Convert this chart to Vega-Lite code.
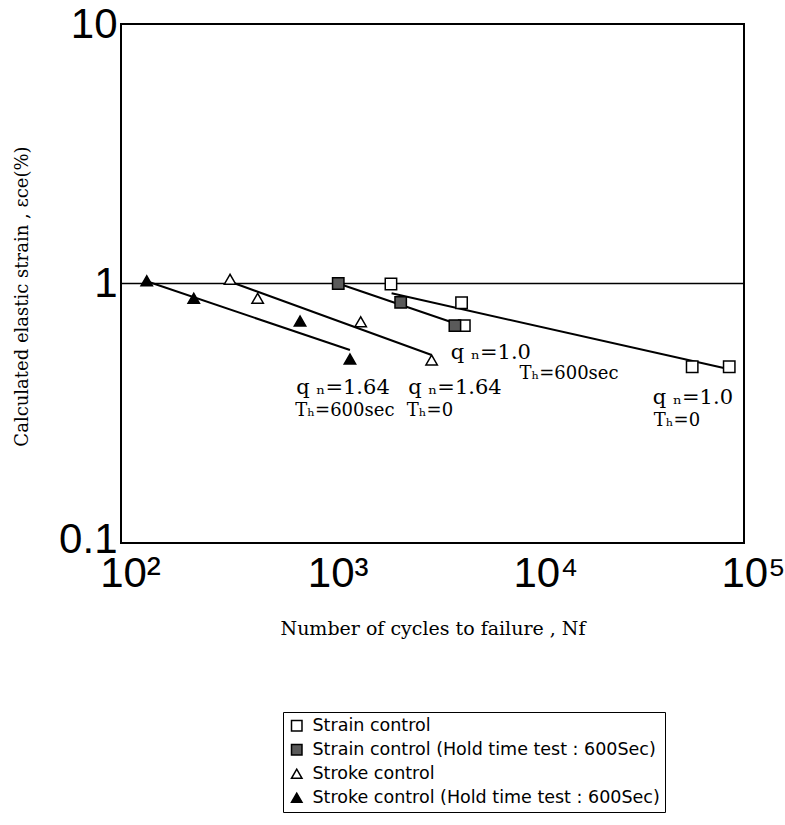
{
  "$schema": "https://vega.github.io/schema/vega-lite/v6.json",
  "width": 623,
  "height": 519,
  "autosize": {"type": "none"},
  "padding": {"left": 121, "top": 24, "right": 41, "bottom": 282},
  "background": "white",
  "config": {
    "view": {"stroke": "black", "strokeWidth": 2},
    "axis": {"domain": false, "ticks": false, "grid": false, "labelColor": "black", "titleColor": "black"}
  },
  "datasets": {
    "pts": [
      {"series": "Strain control", "N": 1995, "e": 0.995},
      {"series": "Strain control", "N": 4365, "e": 0.843},
      {"series": "Strain control", "N": 4500, "e": 0.688},
      {"series": "Strain control", "N": 56300, "e": 0.478},
      {"series": "Strain control", "N": 84900, "e": 0.478},
      {"series": "Strain control (Hold time test : 600Sec)", "N": 1112, "e": 1.0},
      {"series": "Strain control (Hold time test : 600Sec)", "N": 2222, "e": 0.846},
      {"series": "Strain control (Hold time test : 600Sec)", "N": 4055, "e": 0.688},
      {"series": "Stroke control", "N": 335, "e": 1.038},
      {"series": "Stroke control", "N": 455, "e": 0.877},
      {"series": "Stroke control", "N": 1426, "e": 0.712},
      {"series": "Stroke control", "N": 3132, "e": 0.507},
      {"series": "Stroke control (Hold time test : 600Sec)", "N": 133, "e": 1.025},
      {"series": "Stroke control (Hold time test : 600Sec)", "N": 224, "e": 0.877},
      {"series": "Stroke control (Hold time test : 600Sec)", "N": 728, "e": 0.717},
      {"series": "Stroke control (Hold time test : 600Sec)", "N": 1266, "e": 0.512}
    ],
    "lines": [
      {"line": "A", "N": 133, "e": 1.02},
      {"line": "A", "N": 1266, "e": 0.554},
      {"line": "B", "N": 346, "e": 1.007},
      {"line": "B", "N": 3132, "e": 0.53},
      {"line": "C", "N": 1112, "e": 1.0},
      {"line": "C", "N": 4285, "e": 0.692},
      {"line": "D", "N": 2009, "e": 0.917},
      {"line": "D", "N": 88300, "e": 0.464}
    ],
    "ref": [{"e": 1}],
    "notes": [
      {"kind": "q", "label": "q ₙ=1.0", "N": 6040, "e": 0.54},
      {"kind": "t", "label": "Tₕ=600sec", "N": 14360, "e": 0.448},
      {"kind": "q", "label": "q ₙ=1.64", "N": 1172, "e": 0.396},
      {"kind": "q", "label": "q ₙ=1.64", "N": 4055, "e": 0.396},
      {"kind": "t", "label": "Tₕ=600sec", "N": 1197, "e": 0.3226},
      {"kind": "t", "label": "Tₕ=0", "N": 3074, "e": 0.3226},
      {"kind": "q", "label": "q ₙ=1.0", "N": 56750, "e": 0.362},
      {"kind": "t", "label": "Tₕ=0", "N": 47530, "e": 0.295}
    ]
  },
  "encoding": {
    "x": {
      "field": "N", "type": "quantitative",
      "scale": {"type": "log", "domain": [100, 100000], "nice": false},
      "axis": {
        "values": [100, 1000, 10000, 100000],
        "labelExpr": "datum.value == 100 ? '10²' : datum.value == 1000 ? '10³' : datum.value == 10000 ? '10⁴' : '10⁵'",
        "labelFont": "Liberation Sans", "labelFontSize": 42, "labelPadding": 10, "labelOffset": 9,
        "labelFlush": false,
        "title": "Number of cycles to failure , Nf",
        "titleFont": "DejaVu Serif", "titleFontSize": 19, "titleFontWeight": "normal",
        "titleY": 76
      }
    },
    "y": {
      "field": "e", "type": "quantitative",
      "scale": {"type": "log", "domain": [0.1, 10], "nice": false},
      "axis": {
        "values": [0.1, 1, 10],
        "format": "~g",
        "labelFont": "Liberation Sans", "labelFontSize": 42, "labelPadding": 4,
        "labelOffset": {"condition": {"test": "datum.value < 0.5", "value": -4}, "value": 0},
        "labelFlush": false,
        "title": "Calculated elastic strain , εce(%)",
        "titleFont": "DejaVu Serif", "titleFontSize": 18, "titleFontWeight": "normal",
        "titleX": -90, "titleY": 272
      }
    }
  },
  "layer": [
    {
      "data": {"name": "ref"},
      "mark": {"type": "rule", "color": "black", "strokeWidth": 1.5},
      "encoding": {"x": null}
    },
    {
      "data": {"name": "lines"},
      "mark": {"type": "line", "color": "black", "strokeWidth": 2},
      "encoding": {"detail": {"field": "line"}}
    },
    {
      "data": {"name": "pts"},
      "mark": {"type": "point", "filled": true, "stroke": "black", "strokeWidth": 1.5, "size": 130, "opacity": 1},
      "encoding": {
        "shape": {
          "field": "series", "type": "nominal",
          "scale": {
            "domain": ["Strain control", "Strain control (Hold time test : 600Sec)", "Stroke control", "Stroke control (Hold time test : 600Sec)"],
            "range": ["square", "square", "triangle-up", "triangle-up"]
          },
          "legend": {
            "title": null,
            "orient": "none", "legendX": 162, "legendY": 688,
            "strokeColor": "black", "fillColor": "white", "padding": 5,
            "labelFont": "DejaVu Sans", "labelFontSize": 17.5, "labelColor": "black",
            "labelLimit": 500, "labelOffset": 7,
            "symbolSize": 110, "symbolStrokeColor": "black", "symbolStrokeWidth": 1.5,
            "rowPadding": 5, "symbolOpacity": 1,
            "encode": {"symbols": {"update": {"stroke": {"value": "black"}, "strokeWidth": {"value": 1.5}}}}
          }
        },
        "color": {
          "field": "series", "type": "nominal",
          "scale": {
            "domain": ["Strain control", "Strain control (Hold time test : 600Sec)", "Stroke control", "Stroke control (Hold time test : 600Sec)"],
            "range": ["white", "#5a5a5a", "white", "black"]
          },
          "legend": {
            "title": null,
            "orient": "none", "legendX": 162, "legendY": 688,
            "strokeColor": "black", "fillColor": "white", "padding": 5,
            "labelFont": "DejaVu Sans", "labelFontSize": 17.5, "labelColor": "black",
            "labelLimit": 500, "labelOffset": 7,
            "symbolSize": 110, "symbolStrokeColor": "black", "symbolStrokeWidth": 1.5,
            "rowPadding": 5, "symbolOpacity": 1,
            "encode": {"symbols": {"update": {"stroke": {"value": "black"}, "strokeWidth": {"value": 1.5}}}}
          }
        }
      }
    },
    {
      "data": {"name": "notes"},
      "transform": [{"filter": "datum.kind == 'q'"}],
      "mark": {"type": "text", "font": "DejaVu Serif", "fontSize": 21, "color": "black"},
      "encoding": {"text": {"field": "label"}}
    },
    {
      "data": {"name": "notes"},
      "transform": [{"filter": "datum.kind == 't'"}],
      "mark": {"type": "text", "font": "DejaVu Serif", "fontSize": 18, "color": "black"},
      "encoding": {"text": {"field": "label"}}
    }
  ]
}
